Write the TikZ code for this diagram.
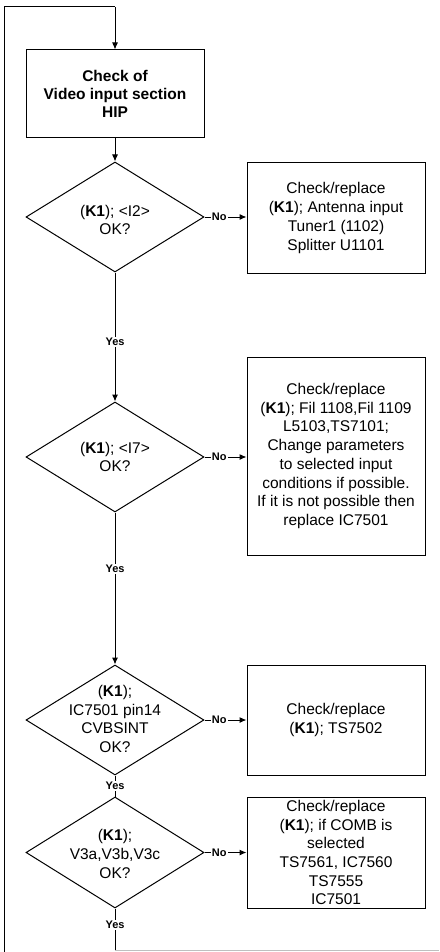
\documentclass[tikz,border=0pt]{standalone}
\usepackage{fontspec}
\setmainfont{Liberation Sans}
\usetikzlibrary{shapes.geometric,arrows.meta}
\begin{document}
\begin{tikzpicture}[x=1pt,y=-1pt,
 every node/.style={font=\fontsize{15.5}{18.7}\selectfont},
 box/.style={draw,line width=1pt,rectangle,minimum width=178pt,inner sep=0pt,align=center},
 dec/.style={draw,line width=1pt,diamond,minimum width=178pt,minimum height=110pt,inner sep=0pt},
 txt/.style={align=center,inner sep=0pt},
 lbl/.style={font=\fontsize{11}{12}\selectfont\bfseries,fill=white,inner sep=1.2pt},
 conn/.style={line width=1pt},
 arr/.style={conn,-{Latex[length=7pt,width=6pt]}}
]
\useasboundingbox (0,0) rectangle (439,952);
\coordinate (tl) at (4,7);
\coordinate (tr) at (115,7);
\coordinate (bl) at (4,952);
\coordinate (bend) at (115,950);
\coordinate (br) at (439,950);

\node[box,minimum height=88pt,font=\fontsize{15.5}{18}\selectfont\bfseries] (b1) at (115,94) {Check of\\Video input section\\HIP};

\node[dec] (d1) at (115,217) {};
\node[txt] (t1) at (115,220) {(\textbf{K1}); <I2>\\OK?};
\node[box,minimum height=110pt] (b2) at (336,218) {Check/replace\\(\textbf{K1}); Antenna input\\Tuner1 (1102)\\Splitter U1101};

\node[dec] (d2) at (115,457) {};
\node[txt] (t2) at (115,457) {(\textbf{K1}); <I7>\\OK?};
\node[box,minimum height=198pt] (b3) at (336,456) {Check/replace\\(\textbf{K1}); Fil 1108,Fil 1109\\L5103,TS7101;\\Change parameters\\to selected input\\conditions if possible.\\If it is not possible then\\replace IC7501};

\node[dec] (d3) at (115,720) {};
\node[txt] (t3) at (115,719) {(\textbf{K1});\\IC7501 pin14\\CVBSINT\\OK?};
\node[box,minimum height=110pt] (b4) at (336,720) {Check/replace\\(\textbf{K1}); TS7502};

\node[dec,minimum height=111pt] (d4) at (115,852.5) {};
\node[txt] (t4) at (115,854) {(\textbf{K1});\\V3a,V3b,V3c\\OK?};
\node[box,minimum height=111pt] (b5) at (336,852.5) {Check/replace\\(\textbf{K1}); if COMB is\\selected\\TS7561, IC7560\\TS7555\\IC7501};

\draw[conn] (bl) -- (tl) -- (tr);
\draw[arr] (tr) -- (b1.north);
\draw[arr] (b1.south) -- (d1.north);

\draw[arr] (d1.east) -- node[lbl,pos=0.35]{No} (d1.east -| b2.west);
\draw[arr] (d2.east) -- node[lbl,pos=0.35]{No} (d2.east -| b3.west);
\draw[arr] (d3.east) -- node[lbl,pos=0.35]{No} (d3.east -| b4.west);
\draw[arr] (d4.east) -- node[lbl,pos=0.35]{No} (d4.east -| b5.west);

\draw[arr] (d1.south) -- node[lbl,pos=0.54]{Yes} (d2.north);
\draw[arr] (d2.south) -- node[lbl,pos=0.37]{Yes} (d3.north);
\draw[conn] (d3.south) -- node[lbl,pos=0.5]{Yes} (d4.north);
\draw[conn] (d4.south) -- node[lbl,pos=0.4]{Yes} (bend);
\draw[conn,gray!50] (bend) -- (br);
\end{tikzpicture}
\end{document}
